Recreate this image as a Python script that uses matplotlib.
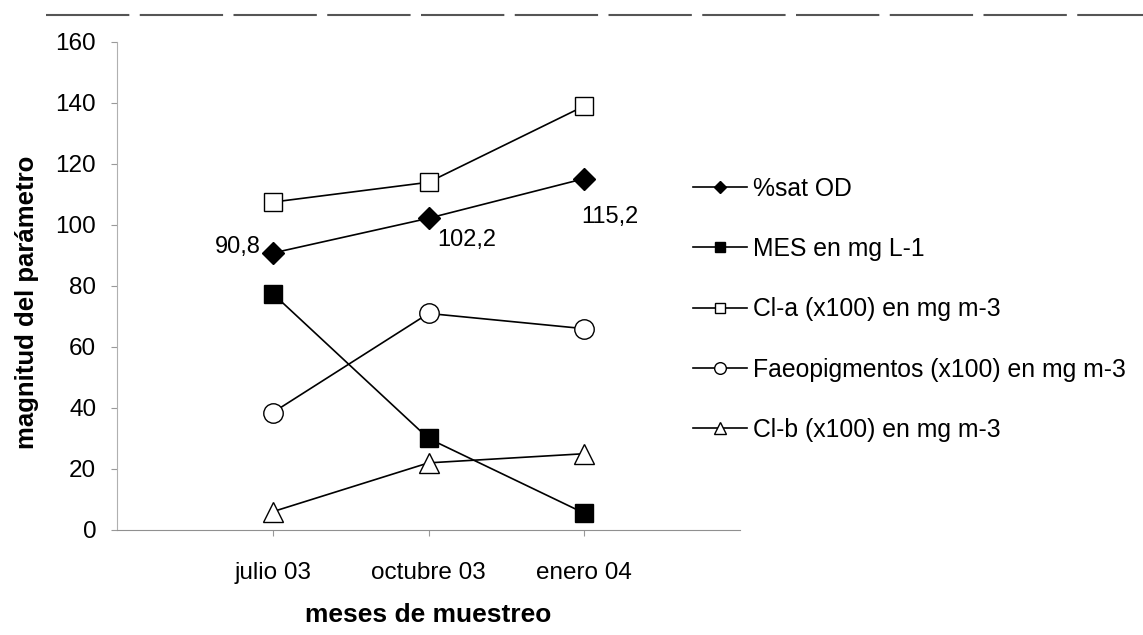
import matplotlib.pyplot as plt
from matplotlib.lines import Line2D

plt.rcParams['font.family'] = ['Liberation Sans', 'DejaVu Sans']

meses = ['julio 03', 'octubre 03', 'enero 04']
sat_od = [90.8, 102.2, 115.2]
mes = [77.5, 30.0, 5.5]
cl_a = [107.5, 114.0, 139.0]
faeo = [38.5, 71.0, 66.0]
cl_b = [6.0, 22.0, 25.0]

etiquetas = ['%sat OD', 'MES en mg L-1', 'Cl-a (x100) en mg m-3',
             'Faeopigmentos (x100) en mg m-3', 'Cl-b (x100) en mg m-3']

fig = plt.figure(figsize=(11.43, 6.35), dpi=100)
ax = fig.add_axes([0.1024, 0.1654, 0.545, 0.7685])

x = range(len(meses))
ax.plot(x, sat_od, color='black', lw=1.2, marker='D', ms=11, mfc='black', mec='black', label=etiquetas[0])
ax.plot(x, mes, color='black', lw=1.2, marker='s', ms=12.5, mfc='black', mec='black', label=etiquetas[1])
ax.plot(x, cl_a, color='black', lw=1.2, marker='s', ms=13, mfc='white', mec='black', label=etiquetas[2])
ax.plot(x, faeo, color='black', lw=1.2, marker='o', ms=14, mfc='white', mec='black', label=etiquetas[3])
ax.plot(x, cl_b, color='black', lw=1.2, marker='^', ms=14, mfc='white', mec='black', label=etiquetas[4])

# etiquetas de %sat OD
ax.annotate('90,8', (0, sat_od[0]), xytext=(-9, 4), textcoords='offset points',
            ha='right', va='center', fontsize=17)
ax.annotate('102,2', (1, sat_od[1]), xytext=(6, -15.5), textcoords='offset points',
            ha='left', va='center', fontsize=17)
ax.annotate('115,2', (2, sat_od[2]), xytext=(-2, -27.5), textcoords='offset points',
            ha='left', va='center', fontsize=17)

ax.set_xlim(-1, 3)
ax.set_ylim(0, 160)
ax.set_xticks(list(x))
ax.set_xticklabels(meses, fontsize=17.5)
ax.set_yticks(range(0, 161, 20))
ax.tick_params(axis='y', labelsize=17.5, length=4, color='#999999', pad=11)
ax.tick_params(axis='x', length=4, color='#999999', pad=19)
ax.spines['top'].set_visible(False)
ax.spines['right'].set_visible(False)
ax.spines['left'].set_color('#b0b0b0')
ax.spines['bottom'].set_color('#909090')

ax.set_ylabel('magnitud del parámetro', fontsize=18.5, fontweight='bold')
ax.yaxis.set_label_coords(-0.125, 0.467)
ax.set_xlabel('meses de muestreo', fontsize=19, fontweight='bold', labelpad=14)

fig.legend(loc='upper left', bbox_to_anchor=(0.606, 0.722), frameon=False,
           fontsize=17.8, handlelength=2.2, labelspacing=1.47, handletextpad=0.25,
           borderpad=0, borderaxespad=0, markerscale=0.6)

# borde superior del escaneo
fig.add_artist(Line2D([0.04, 1.0], [0.976, 0.976], color='#555555', lw=1.5,
                      dashes=(40, 5)))

fig.savefig('out.png', dpi=100)
